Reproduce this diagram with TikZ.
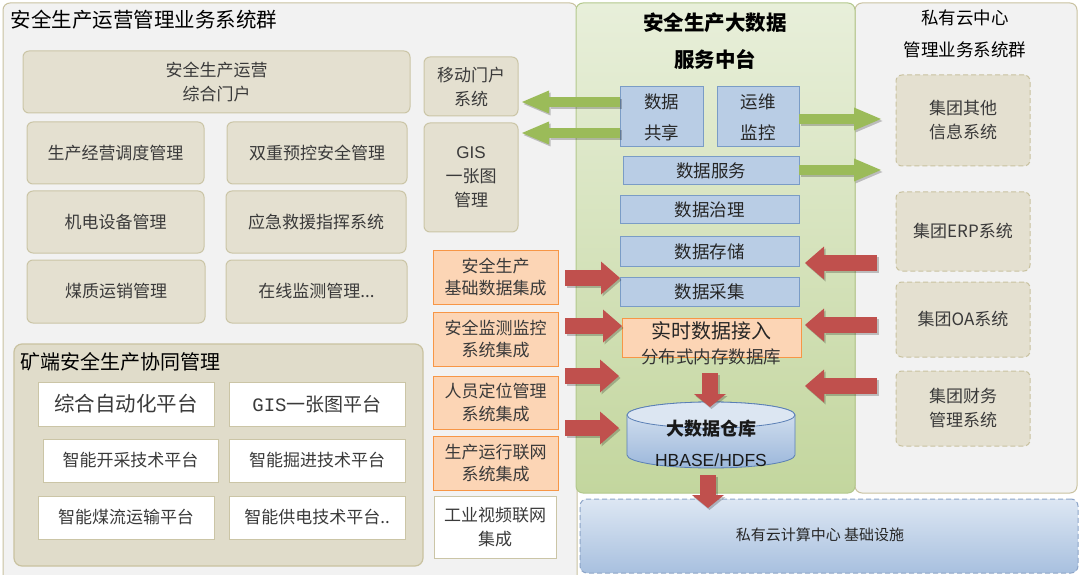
\documentclass[tikz,border=0pt]{standalone}
\usepackage{fontspec}
\setmainfont{Noto Sans CJK SC}
\newfontfamily\arialf{Liberation Sans}
\newfontfamily\monof{Liberation Mono}
\usetikzlibrary{arrows.meta,calc}
\definecolor{cPanel}{HTML}{F2F2F2}
\definecolor{cTan}{HTML}{C9C2A0}
\definecolor{cTanL}{HTML}{CBC5A6}
\definecolor{cBeige}{HTML}{E4E0D0}
\definecolor{cMine}{HTML}{E0DCCA}
\definecolor{cText}{HTML}{3A3A3A}
\definecolor{cOrF}{HTML}{FCD5B5}
\definecolor{cOrD}{HTML}{F79646}
\definecolor{cBlF}{HTML}{B9CDE5}
\definecolor{cBlD}{HTML}{7A9CC6}
\definecolor{cGrTop}{HTML}{E8EFDA}
\definecolor{cGrBot}{HTML}{C3D69E}
\definecolor{cGrD}{HTML}{B3C88C}
\definecolor{cRed}{HTML}{C0504D}
\definecolor{cGreenA}{HTML}{9BBB59}
\definecolor{cCylTop}{HTML}{DCE6F2}
\definecolor{cCylBot}{HTML}{9BB7DB}
\definecolor{cCylD}{HTML}{5A7FB5}
\definecolor{cBotTop}{HTML}{DDE7F3}
\definecolor{cBotBot}{HTML}{A8C0DF}
\definecolor{cBotD}{HTML}{8DA5C8}
\newcommand\fz[2]{\fontsize{#1}{#2}\selectfont}
% box from corner (x1,y1) to (x2,y2) in pixel coordinates
\newcommand\mkbox[7]{\node[#1, inner sep=0pt, outer sep=0pt, minimum width={(#5)-(#3)}, minimum height={(#6)-(#4)}] (#2) at ({((#3)+(#5))/2},{((#4)+(#6))/2}) {#7};}
\begin{document}
\begin{tikzpicture}[x=1pt,y=-1pt,
  panel/.style={fill=cPanel, draw=cTan, line width=1pt, rounded corners=7pt},
  greenpanel/.style={top color=cGrTop, bottom color=cGrBot, draw=cGrD, line width=1pt, rounded corners=7pt},
  beigebox/.style={fill=cBeige, draw=cTanL, line width=1pt, rounded corners=6pt, text=cText, align=center, font=\fz{17}{24}},
  minepanel/.style={fill=cMine, draw=cTan, line width=1.2pt, rounded corners=8pt},
  whitebox/.style={fill=white, draw=cTanL, line width=1pt, text=cText, align=center, font=\fz{17}{24}},
  orbox/.style={fill=cOrF, draw=cOrD, line width=1pt, text=cText, align=center, font=\fz{17}{22.5}},
  bluebox/.style={fill=cBlF, draw=cBlD, line width=1pt, text=black!85, align=center, font=\fz{17.5}{31}},
  dbox/.style={fill=cBeige, draw=cTan, line width=1pt, dash pattern=on 5pt off 3pt, rounded corners=6pt, text=cText, align=center, font=\fz{17}{24}},
  infrabox/.style={top color=cBotTop, bottom color=cBotBot, draw=cBotD, line width=1pt, dash pattern=on 5pt off 3pt, rounded corners=7pt},
  garrow/.style={line width=10pt, draw=cGreenA, -{Triangle[width=23pt 0 0, length=27pt 0 0, line width=0pt]}},
  rarrow/.style={line width=16pt, draw=cRed, -{Triangle[width=33pt 0 0, length=19pt 0 0, line width=0pt]}},
  darrow/.style={line width=16pt, draw=cRed, -{Triangle[width=32pt 0 0, length=13pt 0 0, line width=0pt]}},
  shad/.style={draw=black, opacity=0.22, transform canvas={shift={(1.5pt,-2pt)}}}
]
\useasboundingbox (0,0) rectangle (1080,575);
\fill[white] (0,0) rectangle (1080,575);

% ---------- panels ----------
\mkbox{panel}{leftpanel}{3}{3}{577}{590}{}
\mkbox{panel}{rightpanel}{855}{3}{1077}{493}{}
\mkbox{greenpanel}{midpanel}{576}{3}{855}{493}{}

% ---------- left business group ----------
\node[anchor=west, font=\fz{20.5}{24}] (lefttitle) at (7,20) {安全生产运营管理业务系统群};
\mkbox{beigebox}{portal}{23}{51}{410}{113}{安全生产运营\\综合门户}
\mkbox{beigebox}{b11}{27}{122}{204}{184}{生产经营调度管理}
\mkbox{beigebox}{b12}{227}{122}{407}{184}{双重预控安全管理}
\mkbox{beigebox}{b21}{27}{191}{204}{253}{机电设备管理}
\mkbox{beigebox}{b22}{226}{191}{406}{253}{应急救援指挥系统}
\mkbox{beigebox}{b31}{27}{260}{205}{323}{煤质运销管理}
\mkbox{beigebox}{b32}{226}{260}{407}{323}{在线监测管理...}
\mkbox{beigebox}{mobile}{424}{57}{518}{116}{移动门户\\系统}
\mkbox{beigebox}{gis}{424}{123}{518}{232}{{\arialf GIS}\\一张图\\管理}

\mkbox{orbox}{o1}{433}{250}{558}{304}{安全生产\\基础数据集成}
\mkbox{orbox}{o2}{433}{312}{558}{366}{安全监测监控\\系统集成}
\mkbox{orbox}{o3}{433}{376}{558}{429}{人员定位管理\\系统集成}
\mkbox{orbox}{o4}{433}{436}{558}{490}{生产运行联网\\系统集成}
\mkbox{whitebox}{video}{434}{496}{556}{558}{工业视频联网\\集成}

\mkbox{minepanel}{mine}{14}{344}{423}{566}{}
\node[anchor=west, font=\fz{20}{24}] (minetitle) at (17,362) {矿端安全生产协同管理};
\mkbox{whitebox, font=\fz{20.5}{24}}{w11}{38}{382}{214}{426}{综合自动化平台}
\mkbox{whitebox, font=\fz{19}{24}}{w12}{229}{382}{405}{426}{{\monof GIS}一张图平台}
\mkbox{whitebox}{w21}{43}{439}{218}{482}{智能开采技术平台}
\mkbox{whitebox}{w22}{229}{439}{405}{482}{智能掘进技术平台}
\mkbox{whitebox}{w31}{38}{496}{214}{539}{智能煤流运输平台}
\mkbox{whitebox}{w32}{229}{496}{405}{539}{智能供电技术平台..}

% ---------- middle data platform ----------
\node[align=center, font=\fz{20.5}{37}\bfseries] (midtitle) at (715,41) {安全生产大数据\\服务中台};
\mkbox{bluebox}{share}{620}{87}{703}{147}{数据\\共享}
\mkbox{bluebox}{ops}{717}{87}{799}{147}{运维\\监控}
\mkbox{bluebox}{svc}{623}{157}{799}{185}{数据服务}
\mkbox{bluebox}{gov}{620}{196}{799}{224}{数据治理}
\mkbox{bluebox}{store}{620}{237}{799}{266}{数据存储}
\mkbox{bluebox}{collect}{620}{277}{799}{306}{数据采集}
\mkbox{orbox}{realtime}{622}{318}{801}{357}{}
\node[font=\fz{20}{24}, text=black!85] (rtlabel) at (711,331) {实时数据接入};
\node[font=\fz{17.5}{24}, text=black!80] (rtsub) at (711,357) {分布式内存数据库};

% cylinder (data warehouse)
\path[top color=cCylTop, bottom color=cCylBot, draw=cCylD, line width=0.8pt]
  (627,415) -- (627,455) arc[start angle=180, end angle=0, x radius=84, y radius=13]
  -- (795,415) arc[start angle=0, end angle=-180, x radius=84, y radius=13] -- cycle;
\draw[fill=cCylTop, draw=cCylD, line width=0.8pt] (711,415) ellipse[x radius=84, y radius=13];
\mkbox{}{cyl}{627}{402}{795}{468}{}
\node[font=\fz{18}{24}\bfseries, text=black!90] (cyltitle) at (711,429) {大数据仓库};
\node[font=\arialf\fz{17.5}{24}, text=black!90] (cylsub) at (711,460) {HBASE/HDFS};

% bottom infrastructure
\mkbox{infrabox}{infra}{580}{499}{1078}{573}{}
\node[font=\fz{15}{20}, text=black!85] (infralabel) at (820,535) {私有云计算中心 基础设施};

% ---------- right cloud group ----------
\node[align=center, font=\fz{17.5}{32}] (righttitle) at (965,34) {私有云中心\\管理业务系统群};
\mkbox{dbox}{r1}{896}{75}{1030}{166}{集团其他\\信息系统}
\mkbox{dbox}{r2}{896}{192}{1030}{271}{集团ERP系统}
\mkbox{dbox}{r3}{896}{282}{1030}{357}{集团OA系统}
\mkbox{dbox}{r4}{896}{371}{1030}{446}{集团财务\\管理系统}

% ---------- arrow end points ----------
\coordinate (g1t) at (522,102);
\coordinate (g2t) at (522,133);
\coordinate (g3t) at (881,119);
\coordinate (g4t) at (881,170);
\coordinate (l1s) at (565,278);
\coordinate (l2s) at (565,326);
\coordinate (l3s) at (565,376);
\coordinate (l3t) at (619,376);
\coordinate (l4s) at (565,428);
\coordinate (l4t) at (619,428);
\coordinate (q1s) at (877,263);
\coordinate (q1t) at (805,263);
\coordinate (q2s) at (877,325);
\coordinate (q2t) at (805,325);
\coordinate (q3s) at (877,386);
\coordinate (q3t) at (805,386);
\coordinate (d1s) at (710,373);
\coordinate (d1t) at (710,407);
\coordinate (d2s) at (708,475);
\coordinate (d2t) at (708,508);

% green arrows
\foreach \s/\t in {{share.west |- g1t}/g1t, {share.west |- g2t}/g2t, {ops.east |- g3t}/g3t, {svc.east |- g4t}/g4t}{
  \draw[garrow, shad] (\s) -- (\t);
  \draw[garrow] (\s) -- (\t);
}
% red arrows from left
\foreach \s/\t in {l1s/{collect.west |- l1s}, l2s/{realtime.west |- l2s}, l3s/l3t, l4s/l4t}{
  \draw[rarrow, shad] (\s) -- (\t);
  \draw[rarrow] (\s) -- (\t);
}
% red arrows from right
\foreach \s/\t in {q1s/q1t, q2s/q2t, q3s/q3t}{
  \draw[rarrow, shad] (\s) -- (\t);
  \draw[rarrow] (\s) -- (\t);
}
% red arrows down
\draw[darrow, shad] (d1s) -- (d1t);
\draw[darrow] (d1s) -- (d1t);
\draw[darrow, shad] (d2s) -- (d2t);
\draw[darrow] (d2s) -- (d2t);
\end{tikzpicture}
\end{document}
